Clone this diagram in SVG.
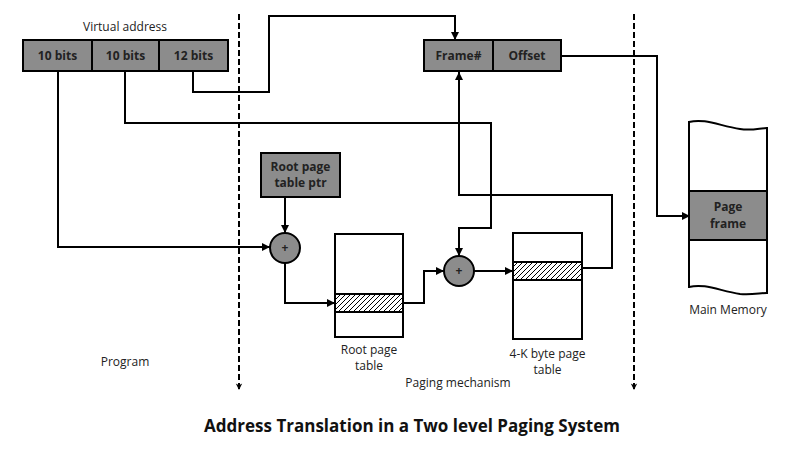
<svg xmlns="http://www.w3.org/2000/svg" width="800" height="450" viewBox="0 0 800 450">
<defs>
<marker id="ah" markerUnits="userSpaceOnUse" markerWidth="10" markerHeight="10" viewBox="0 0 10 10" refX="9" refY="5" orient="auto">
<path d="M1,1 L9,5 L1,9 Z" fill="#000"/>
</marker>
<marker id="ahs" markerUnits="userSpaceOnUse" markerWidth="8" markerHeight="8" viewBox="0 0 10 10" refX="9" refY="5" orient="auto">
<path d="M1,1 L9,5 L1,9 L3,5 Z" fill="#000"/>
</marker>
<pattern id="hatch" patternUnits="userSpaceOnUse" width="5" height="5">
<path d="M-1,6 L6,-1 M-1,1 L1,-1 M4,6 L6,4" stroke="#000" stroke-width="1"/>
</pattern>
<style>
.box{fill:#8c8c8c;stroke:#000;stroke-width:2}
.wbox{fill:#fff;stroke:#000;stroke-width:2}
.ln{fill:none;stroke:#000;stroke-width:2}
.arr{fill:none;stroke:#000;stroke-width:2;marker-end:url(#ah)}
.dash{fill:none;stroke:#000;stroke-width:2;stroke-dasharray:6,3;marker-end:url(#ahs)}
.b{font-family:"Open Sans","Liberation Sans",sans-serif;font-weight:bold;font-size:12px;fill:#222;text-anchor:middle}
.t{font-family:"Open Sans","Liberation Sans",sans-serif;font-size:12px;fill:#222;text-anchor:middle}
.title{font-family:"Open Sans","Liberation Sans",sans-serif;font-weight:bold;font-size:17px;fill:#111;text-anchor:middle}
</style>
</defs>
<rect width="800" height="450" fill="#fff"/>

<g id="dividers">
<line class="dash" x1="239" y1="14" x2="239" y2="390"/>
<line class="dash" x1="634" y1="14" x2="634" y2="390"/>
</g>

<g id="connectors">
<polyline class="arr" points="58,71 58,247 270,247"/>
<polyline class="arr" points="125,71 125,123 491,123 491,228 459,228 459,256"/>
<polyline class="arr" points="193,71 193,92 269,92 269,16 455,16 455,40"/>
<polyline class="arr" points="285,197 285,233"/>
<polyline class="arr" points="285,263 285,303 335,303"/>
<polyline class="arr" points="403,303 424,303 424,271 444,271"/>
<polyline class="arr" points="474,271 513,271"/>
<polyline class="arr" points="582,268 612,268 612,195 459,195 459,72"/>
<polyline class="arr" points="561,56 657,56 657,216 690,216"/>
</g>

<g id="virtual-address">
<text class="t" x="125" y="31">Virtual address</text>
<rect class="box" x="23" y="40" width="69" height="31"/>
<rect class="box" x="92" y="40" width="67" height="31"/>
<rect class="box" x="159" y="40" width="69" height="31"/>
<text class="b" x="57.5" y="60">10 bits</text>
<text class="b" x="125.5" y="60">10 bits</text>
<text class="b" x="193.5" y="60">12 bits</text>
</g>

<g id="physical-address">
<rect class="box" x="424" y="40" width="69" height="31"/>
<rect class="box" x="493" y="40" width="68" height="31"/>
<text class="b" x="458.5" y="60">Frame#</text>
<text class="b" x="527" y="60">Offset</text>
</g>

<g id="root-ptr">
<rect class="box" x="261" y="153" width="79" height="44"/>
<text class="b" x="300.5" y="171">Root page</text>
<text class="b" x="300.5" y="187">table ptr</text>
</g>

<g id="adder1">
<circle class="box" cx="285" cy="248" r="15"/>
<text class="b" x="285" y="252" font-size="10">+</text>
</g>

<g id="adder2">
<circle class="box" cx="459" cy="271" r="15"/>
<text class="b" x="459" y="275" font-size="10">+</text>
</g>

<g id="root-table">
<rect class="wbox" x="335" y="234" width="68" height="103"/>
<rect x="335" y="294" width="68" height="18" fill="url(#hatch)" stroke="#000" stroke-width="2"/>
<text class="t" x="369" y="354">Root page</text>
<text class="t" x="369" y="370">table</text>
</g>

<g id="page-table">
<rect class="wbox" x="513" y="233" width="69" height="106"/>
<rect x="513" y="262" width="69" height="18" fill="url(#hatch)" stroke="#000" stroke-width="2"/>
<text class="t" x="547.5" y="358">4-K byte page</text>
<text class="t" x="547.5" y="374">table</text>
</g>

<g id="main-memory">
<path class="ln" d="M689,122 C705,118 720,126 740,129 C752,131 760,128 767,128"/>
<path class="ln" d="M689,287 C705,283 720,291 740,294 C752,295 760,293 767,293"/>
<line class="ln" x1="689" y1="121" x2="689" y2="288"/>
<line class="ln" x1="767" y1="127" x2="767" y2="294"/>
<rect class="box" x="689" y="191" width="78" height="49"/>
<text class="b" x="728" y="211">Page</text>
<text class="b" x="728" y="228">frame</text>
<text class="t" x="728" y="314">Main Memory</text>
</g>

<g id="labels">
<text class="t" x="125" y="366">Program</text>
<text class="t" x="458" y="387">Paging mechanism</text>
<text class="title" x="412" y="432">Address Translation in a Two level Paging System</text>
</g>
</svg>
